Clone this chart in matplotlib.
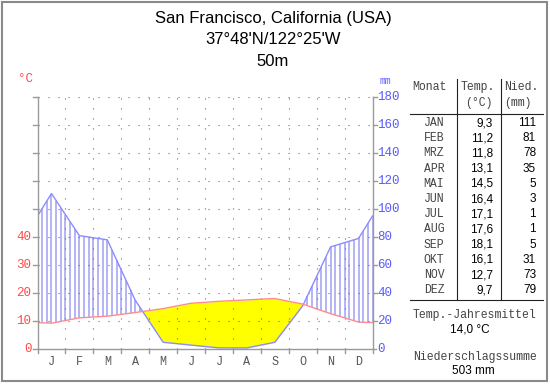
import matplotlib
matplotlib.use("Agg")
import matplotlib.pyplot as plt
import numpy as np
from matplotlib.patches import Rectangle
from matplotlib.lines import Line2D

# ---- data ----
months_short = ["J", "F", "M", "A", "M", "J", "J", "A", "S", "O", "N", "D"]
months_table = ["JAN", "FEB", "MRZ", "APR", "MAI", "JUN", "JUL", "AUG", "SEP", "OKT", "NOV", "DEZ"]
temp = [9.3, 11.2, 11.8, 13.1, 14.5, 16.4, 17.1, 17.6, 18.1, 16.1, 12.7, 9.7]
prec = [111, 81, 78, 35, 5, 3, 1, 1, 5, 31, 73, 79]
temp_labels = ["9,3", "11,2", "11,8", "13,1", "14,5", "16,4", "17,1", "17,6", "18,1", "16,1", "12,7", "9,7"]
temp_ticks = [0, 10, 20, 30, 40]
prec_ticks = [0, 20, 40, 60, 80, 100, 120, 140, 160, 180]
title_lines = ["San Francisco, California (USA)", "37°48'N/122°25'W", "50m"]
mean_temp_label = "14,0 °C"
sum_prec_label = "503 mm"

W, H = 550, 384
fig = plt.figure(figsize=(W / 100, H / 100), dpi=100)
fig.patch.set_facecolor("white")

def fx(x):
    return x / W

def fy(y):
    return 1 - y / H

MONO = ["Liberation Mono", "DejaVu Sans Mono"]
SANS = ["Liberation Sans", "DejaVu Sans"]

# frame
fig.add_artist(Rectangle((fx(2), fy(381)), fx(545), (379) / H, transform=fig.transFigure,
                         fill=False, edgecolor="#8a8a8a", linewidth=1.5))

# plot area
L, R, T, B = 37.5, 372.5, 96.7, 349.3
ax = fig.add_axes([fx(L), fy(B), (R - L) / W, (B - T) / H])
ax.set_xlim(0, 12)
ax.set_ylim(0, 180)
ax.axis("off")

# curves with wrap-around ends
x = np.arange(12) + 0.5
p = np.array(prec, dtype=float)
t2 = np.array(temp, dtype=float) * 2  # 10°C = 20 mm
xe = np.concatenate([[0], x, [12]])
pe = np.concatenate([[(p[0] + p[-1]) / 2], p, [(p[0] + p[-1]) / 2]])
te = np.concatenate([[(t2[0] + t2[-1]) / 2], t2, [(t2[0] + t2[-1]) / 2]])

# fine sampling for fill
xf = np.linspace(0, 12, 2401)
pf = np.interp(xf, xe, pe)
tf = np.interp(xf, xe, te)
ax.fill_between(xf, pf, tf, where=tf >= pf, color="#ffff00", linewidth=0, interpolate=True, zorder=1)

# hatch lines in humid period
xh = np.arange(0, 12 + 1e-9, 1 / 6)
for xv in xh:
    pv = np.interp(xv, xe, pe)
    tv = np.interp(xv, xe, te)
    if pv > tv:
        ax.plot([xv, xv], [tv, pv], color="#a4a4f4", linewidth=1.15, zorder=2,
                solid_capstyle="butt")

# grid
dot = dict(color="#6f6f6f", linewidth=0.8, linestyle=(0, (1, 8)), zorder=2.5)
for v in prec_ticks[1:]:
    ax.plot([0, 12], [v, v], **dot)
for m in range(1, 12):
    ax.plot([m, m], [0, 180], **dot)

ax.plot(xe, pe, color="#8c8cff", linewidth=1.0, zorder=3)
ax.plot(xe, te, color="#ff8c8c", linewidth=1.0, zorder=4)

# axes lines (in figure pixels)
gray = "#9a9a9a"
def pxline(x0, y0, x1, y1, c=gray, lw=1.0):
    fig.add_artist(Line2D([fx(x0), fx(x1)], [fy(y0), fy(y1)], transform=fig.transFigure,
                          color=c, linewidth=lw))

def ypx(v):
    return B - v * (B - T) / 180

pxline(L, T, L, B)
pxline(R, T, R, B)
pxline(L - 5, B, R + 3, B)
for v in prec_ticks[1:]:
    pxline(L - 5, ypx(v), L, ypx(v))
    pxline(R, ypx(v), R + 4, ypx(v))
for m in range(13):
    xm = L + m * (R - L) / 12
    pxline(xm, B, xm, B + 4)

# tick labels
for v in temp_ticks:
    fig.text(fx(31.5), fy(ypx(v * 2)), str(v), ha="right", va="center", color="#ff4a4a",
             fontsize=9, family=MONO)
for v in prec_ticks:
    fig.text(fx(377.5), fy(ypx(v)), str(v), ha="left", va="center", color="#5a5aff",
             fontsize=9, family=MONO)
fig.text(fx(25), fy(79), "°C", ha="center", va="center", color="#ff4a4a", fontsize=9, family=MONO)
fig.text(fx(385), fy(81), "mm", ha="center", va="center", color="#5a5aff", fontsize=7, family=MONO)
for i, ml in enumerate(months_short):
    xm = L + (i + 0.5) * (R - L) / 12
    fig.text(fx(xm), fy(362), ml, ha="center", va="center", color="#555555", fontsize=8.5, family=MONO)

# title
for i, line in enumerate(title_lines):
    fig.text(fx(273), fy(18 + i * 22), line, ha="center", va="center", color="black",
             fontsize=12, family=SANS)

# table
hdr = "#444444"
TF = 8.3
fig.text(fx(429), fy(87), "Monat", ha="center", va="center", color=hdr, fontsize=TF, family=MONO)
fig.text(fx(478), fy(87), "Temp.", ha="center", va="center", color=hdr, fontsize=TF, family=MONO)
fig.text(fx(521), fy(87), "Nied.", ha="center", va="center", color=hdr, fontsize=TF, family=MONO)
fig.text(fx(479), fy(103), "(°C)", ha="center", va="center", color=hdr, fontsize=TF, family=MONO)
fig.text(fx(518), fy(103), "(mm)", ha="center", va="center", color=hdr, fontsize=TF, family=MONO)
pxline(410, 114, 543, 114, c="#222222", lw=0.8)
pxline(410, 300, 543, 300, c="#222222", lw=0.8)
pxline(457, 79, 457, 300, c="#222222", lw=0.8)
pxline(501, 79, 501, 300, c="#222222", lw=0.8)
for i in range(12):
    yr = 123 + i * 15.2
    fig.text(fx(434), fy(yr), months_table[i], ha="center", va="center", color=hdr,
             fontsize=TF, family=MONO)
    fig.text(fx(493), fy(yr), temp_labels[i], ha="right", va="center", color="black",
             fontsize=8.5, family=SANS)
    fig.text(fx(536), fy(yr), str(prec[i]), ha="right", va="center", color="black",
             fontsize=8.5, family=SANS)

fig.text(fx(474.5), fy(315), "Temp.-Jahresmittel", ha="center", va="center", color=hdr,
         fontsize=TF, family=MONO)
fig.text(fx(470), fy(330), mean_temp_label, ha="center", va="center", color="black",
         fontsize=8.5, family=SANS)
fig.text(fx(475), fy(357), "Niederschlagssumme", ha="center", va="center", color=hdr,
         fontsize=TF, family=MONO)
fig.text(fx(473), fy(371), sum_prec_label, ha="center", va="center", color="black",
         fontsize=8.5, family=SANS)

fig.savefig("out.png", dpi=100)
